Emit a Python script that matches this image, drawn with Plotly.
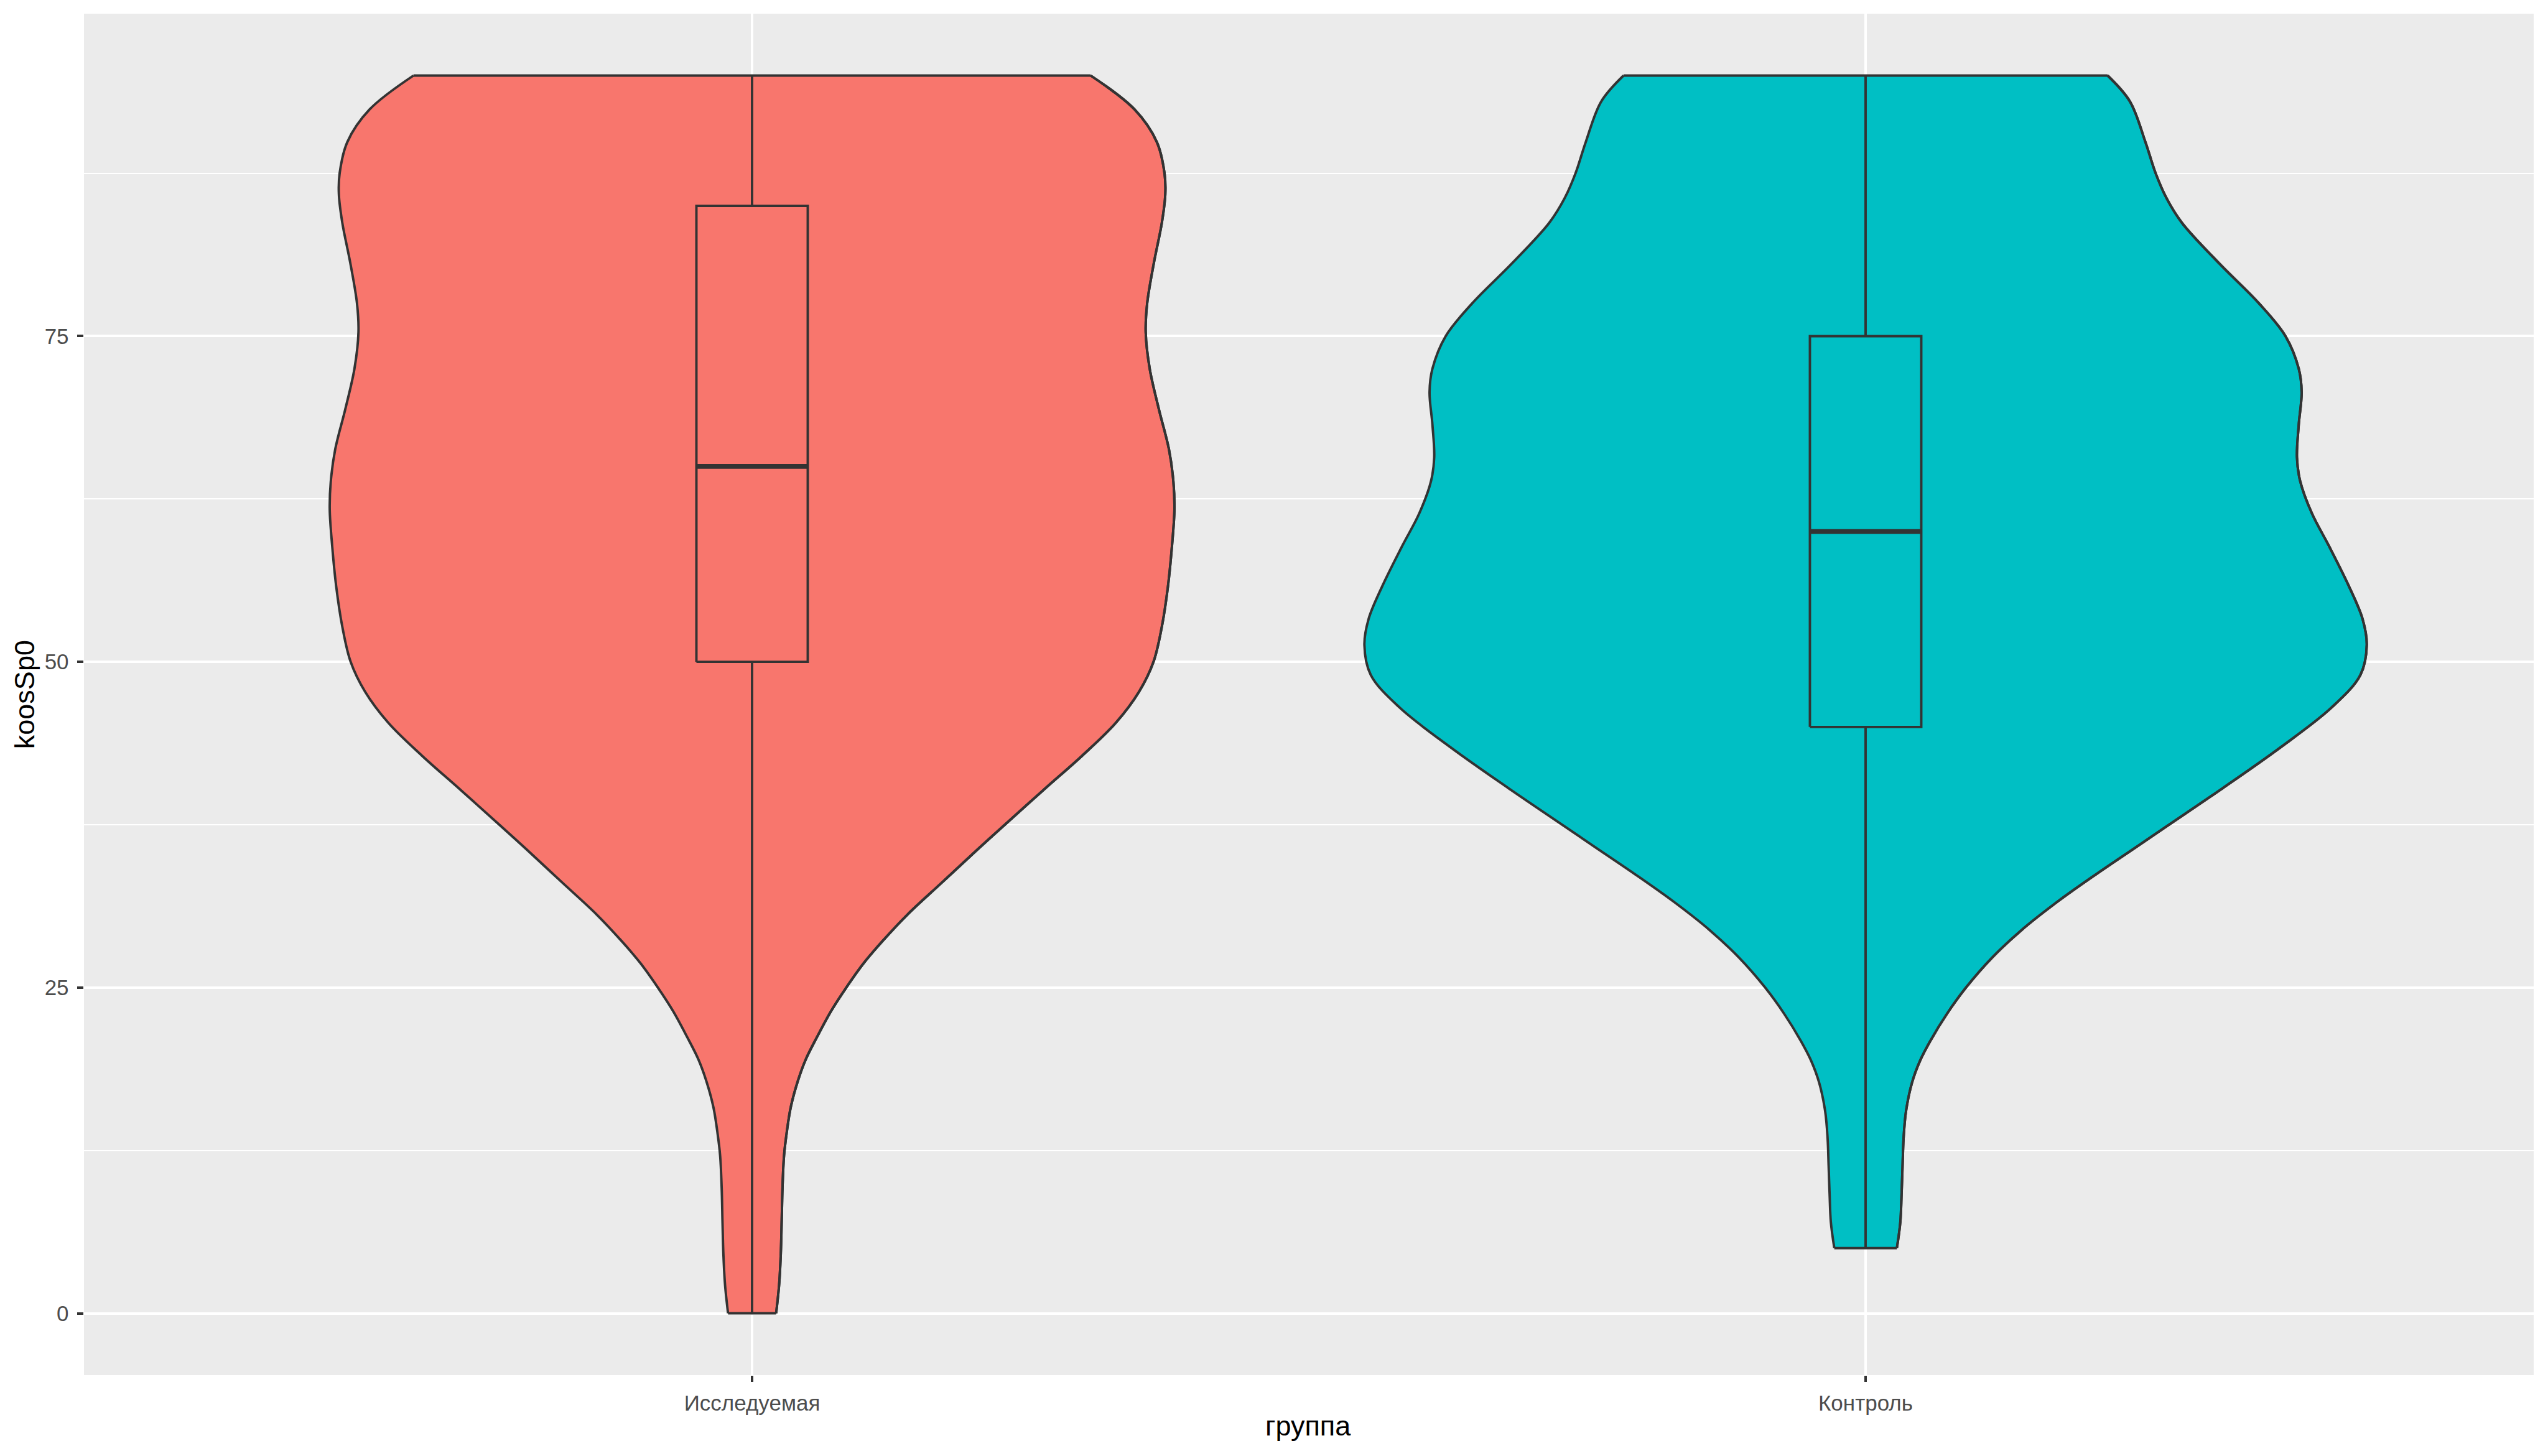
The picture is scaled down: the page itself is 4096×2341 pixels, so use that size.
import plotly.graph_objects as go

# ---------------- data ----------------
groups = ["Исследуемая", "Контроль"]
fill_colors = ["#F8766D", "#00BFC4"]

# violin profile: y level and half-width (in x-axis units)
red_y = [0, 2.2, 4.6, 7.1, 9.6, 12.1, 13.8, 15.8, 17.8, 19.5, 21.2, 23.2, 25, 26.9,
         28.6, 30.6, 33.1, 35.6, 37.5, 40.3, 42.8, 45.3, 47.7, 50, 52.7, 55.8, 58.9,
         61.7, 63.8, 66.3, 69.4, 72.5, 75.3, 77.5, 80.6, 83.7, 85.9, 87.5, 89.9, 92.4, 95]
red_hw = [0.0216, 0.0243, 0.0258, 0.0266, 0.0273, 0.0287, 0.031, 0.0347, 0.041, 0.0483,
          0.0583, 0.071, 0.0846, 0.1005, 0.1175, 0.1395, 0.171, 0.2025, 0.227, 0.2635,
          0.2965, 0.3265, 0.3475, 0.3605, 0.368, 0.3735, 0.3771, 0.3793, 0.3784, 0.3744,
          0.3653, 0.3571, 0.3535, 0.3548, 0.3608, 0.368, 0.3711, 0.3704, 0.3635, 0.3435, 0.3041]

teal_y = [5, 7, 9.1, 11.3, 13.4, 15.5, 17.7, 19.4, 20.9, 23, 25, 27.3, 29.4, 31.6, 33.7,
          35.8, 37.3, 40.3, 43.4, 46.5, 49, 51.3, 53.3, 55.8, 58.9, 61.4, 63.9, 65.7,
          68.2, 70.7, 72.5, 75, 77.5, 80.6, 83.7, 85.6, 87.5, 89.9, 93, 95]
teal_hw = [0.0281, 0.0312, 0.0323, 0.0332, 0.0341, 0.0363, 0.0417, 0.049, 0.0581, 0.0732,
           0.0902, 0.1137, 0.1399, 0.1725, 0.2071, 0.2433, 0.2691, 0.3207, 0.3721, 0.4186,
           0.4444, 0.4501, 0.4463, 0.4341, 0.4161, 0.4008, 0.3902, 0.3874, 0.389, 0.3916,
           0.389, 0.3771, 0.3535, 0.3174, 0.2841, 0.2702, 0.2605, 0.2513, 0.2375, 0.2174]

# boxplot stats: min, q1, median, q3, max
red_box = [0, 50, 65, 85, 95]
teal_box = [5, 45, 60, 75, 95]

y_ticks = [0, 25, 50, 75]
y_minor = [12.5, 37.5, 62.5, 87.5]

# ---------------- geometry / style (scaled 0.975) ----------------
S = 0.975
W, H = 4096, 2341
L, R, T, B = 135, 23.4, 22.4, 130
PW = W - L - R
PH = H - T - B

OUTLINE = "#333333"
LW = 4.0 * S
BOX_HW = 0.05


def px_x(px):
    return (px - L) / PW


def px_y(py):
    return (H - B - py) / PH


fig = go.Figure()

violins = [(red_y, red_hw, red_box), (teal_y, teal_hw, teal_box)]
for i, (vy, vhw, box) in enumerate(violins):
    c = i + 1
    col = fill_colors[i]
    right_x = [c + h for h in vhw]
    left_x = [c - h for h in vhw]
    # right side
    fig.add_trace(go.Scatter(x=right_x, y=vy, mode="lines",
                             line=dict(color=OUTLINE, width=LW, shape="spline", smoothing=1.0),
                             hoverinfo="skip", showlegend=False))
    # left side, filled to right side
    fig.add_trace(go.Scatter(x=left_x, y=vy, mode="lines", fill="tonextx", fillcolor=col,
                             line=dict(color=OUTLINE, width=LW, shape="spline", smoothing=1.0),
                             hoverinfo="skip", showlegend=False))
    # top & bottom edges
    fig.add_trace(go.Scatter(x=[left_x[-1], right_x[-1]], y=[vy[-1], vy[-1]], mode="lines",
                             line=dict(color=OUTLINE, width=LW), hoverinfo="skip", showlegend=False))
    fig.add_trace(go.Scatter(x=[left_x[0], right_x[0]], y=[vy[0], vy[0]], mode="lines",
                             line=dict(color=OUTLINE, width=LW), hoverinfo="skip", showlegend=False))
    # redraw the side outlines on top of the fill
    fig.add_trace(go.Scatter(x=right_x, y=vy, mode="lines",
                             line=dict(color=OUTLINE, width=LW, shape="spline", smoothing=1.0),
                             hoverinfo="skip", showlegend=False))

    mn, q1, med, q3, mx = box
    # whiskers
    fig.add_trace(go.Scatter(x=[c, c, None, c, c], y=[mn, q1, None, q3, mx], mode="lines",
                             line=dict(color=OUTLINE, width=LW), hoverinfo="skip", showlegend=False))
    # box
    fig.add_trace(go.Scatter(x=[c - BOX_HW, c + BOX_HW, c + BOX_HW, c - BOX_HW, c - BOX_HW],
                             y=[q1, q1, q3, q3, q1], mode="lines", fill="toself", fillcolor=col,
                             line=dict(color=OUTLINE, width=LW), hoverinfo="skip", showlegend=False))
    # median
    fig.add_trace(go.Scatter(x=[c - BOX_HW, c + BOX_HW], y=[med, med], mode="lines",
                             line=dict(color=OUTLINE, width=LW * 2), hoverinfo="skip", showlegend=False))

FONT = "Liberation Sans, Arial, sans-serif"
TICKF = 35
TITLEF = 45

fig.update_layout(
    width=W, height=H,
    margin=dict(l=L, r=R, t=T, b=B, pad=0),
    paper_bgcolor="white",
    plot_bgcolor="#EBEBEB",
    showlegend=False,
    font=dict(family=FONT),
    xaxis=dict(
        range=[0.4, 2.6], tickmode="array", tickvals=[1, 2], ticktext=groups,
        showgrid=True, gridcolor="white", gridwidth=4.2 * S, zeroline=False,
        ticks="outside", ticklen=10.7 * S, tickwidth=4.2 * S, tickcolor=OUTLINE,
        tickfont=dict(family=FONT, size=TICKF, color="#4D4D4D"),
        showline=False, fixedrange=True, ticklabelstandoff=4,
    ),
    yaxis=dict(
        range=[-4.75, 99.75], tickmode="array", tickvals=y_ticks,
        ticktext=[str(v) for v in y_ticks],
        showgrid=True, gridcolor="white", gridwidth=4.2 * S, zeroline=False,
        ticks="outside", ticklen=10.7 * S, tickwidth=4.2 * S, tickcolor=OUTLINE,
        tickfont=dict(family=FONT, size=TICKF, color="#4D4D4D"),
        minor=dict(tickvals=y_minor, showgrid=True, gridcolor="white", gridwidth=2.2 * S, ticks=""),
        showline=False, fixedrange=True, ticklabelstandoff=6,
    ),
    annotations=[
        dict(text="группа", xref="paper", yref="paper", x=px_x(2157 * S), y=px_y(2265),
             xanchor="center", yanchor="top", showarrow=False,
             font=dict(family=FONT, size=TITLEF, color="black")),
        dict(text="koosSp0", xref="paper", yref="paper", x=px_x(39.7), y=0.5,
             xanchor="center", yanchor="middle", showarrow=False, textangle=-90,
             font=dict(family=FONT, size=TITLEF, color="black")),
    ],
)

fig.write_html("out.html")
